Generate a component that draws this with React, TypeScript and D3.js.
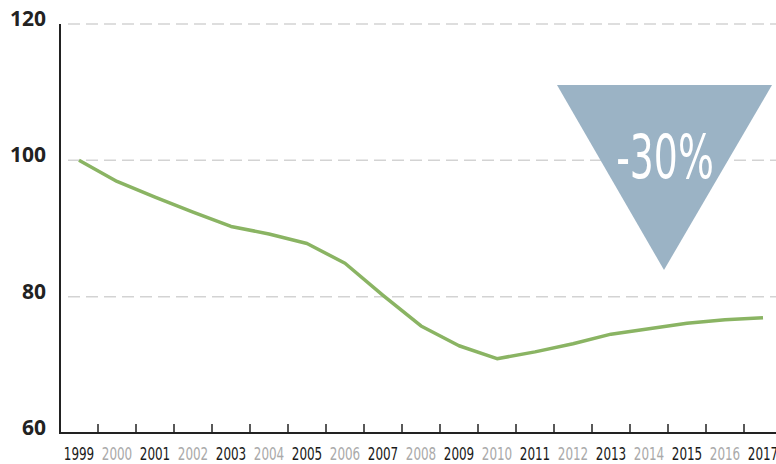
import React, { useEffect, useRef } from "react";
import * as d3 from "d3";

const years: number[] = [1999, 2000, 2001, 2002, 2003, 2004, 2005, 2006, 2007, 2008, 2009, 2010, 2011, 2012, 2013, 2014, 2015, 2016, 2017];
const values: number[] = [100, 96.9, 94.6, 92.4, 90.3, 89.2, 87.8, 84.9, 80.2, 75.7, 72.8, 70.9, 71.9, 73.1, 74.5, 75.3, 76.1, 76.6, 76.9];
const yTicks: number[] = [60, 80, 100, 120];
const badgeLabel = "-30%";

const condensed = "'DejaVu Sans Condensed', 'DejaVu Sans', sans-serif";

const App: React.FC = () => {
  const svgRef = useRef<SVGSVGElement | null>(null);

  useEffect(() => {
    const width = 776;
    const height = 464;
    const marginLeft = 60;
    const marginTop = 24;
    const bottom = 433;
    const band = 38;

    const x = d3
      .scaleBand<number>()
      .domain(years)
      .range([marginLeft, marginLeft + band * years.length])
      .padding(0);

    const y = d3.scaleLinear().domain([60, 120]).range([bottom, marginTop]);

    const svg = d3
      .select(svgRef.current)
      .attr("width", width)
      .attr("height", height)
      .attr("viewBox", `0 0 ${width} ${height}`);

    svg.selectAll("*").remove();

    // dashed grid lines
    svg
      .append("g")
      .selectAll("line")
      .data(yTicks.filter((d) => d > 60))
      .join("line")
      .attr("x1", 68)
      .attr("x2", width)
      .attr("y1", (d) => y(d))
      .attr("y2", (d) => y(d))
      .attr("stroke", "#d3d3d3")
      .attr("stroke-width", 1.5)
      .attr("stroke-dasharray", "12 6");

    // y labels
    svg
      .append("g")
      .selectAll("text")
      .data(yTicks)
      .join("text")
      .attr("x", 46)
      .attr("y", (d) => y(d) + 2)
      .attr("text-anchor", "end")
      .attr("font-family", "'Open Sans', sans-serif")
      .attr("font-weight", 700)
      .attr("font-size", 21)
      .attr("fill", "#222")
      .text((d) => d);

    // axes lines
    svg
      .append("line")
      .attr("x1", marginLeft)
      .attr("x2", marginLeft)
      .attr("y1", marginTop)
      .attr("y2", bottom + 1)
      .attr("stroke", "#222")
      .attr("stroke-width", 2);

    svg
      .append("line")
      .attr("x1", marginLeft - 1)
      .attr("x2", width)
      .attr("y1", bottom)
      .attr("y2", bottom)
      .attr("stroke", "#222")
      .attr("stroke-width", 2);

    // ticks at band boundaries
    svg
      .append("g")
      .selectAll("line")
      .data(years.slice(1))
      .join("line")
      .attr("x1", (d) => x(d)!)
      .attr("x2", (d) => x(d)!)
      .attr("y1", bottom)
      .attr("y2", bottom - 9)
      .attr("stroke", "#222")
      .attr("stroke-width", 1.5);

    // x labels (squeezed horizontally to look condensed)
    svg
      .append("g")
      .selectAll("text")
      .data(years)
      .join("text")
      .attr("transform", (d) => `translate(${x(d)! + band / 2},460) scale(0.72,1)`)
      .attr("text-anchor", "middle")
      .attr("font-family", condensed)
      .attr("font-size", 18.5)
      .attr("fill", (d) => (d % 2 === 1 ? "#1a1a1a" : "#aaa"))
      .text((d) => d);

    // line
    const line = d3
      .line<number>()
      .x((_, i) => x(years[i])! + band / 2)
      .y((d) => y(d));

    svg
      .append("path")
      .datum(values)
      .attr("fill", "none")
      .attr("stroke", "#8ab463")
      .attr("stroke-width", 3.5)
      .attr("stroke-linejoin", "round")
      .attr("d", line);

    // badge triangle
    const tri = d3.path();
    tri.moveTo(557, 85);
    tri.lineTo(772, 85);
    tri.lineTo(664, 270);
    tri.closePath();
    svg.append("path").attr("d", tri.toString()).attr("fill", "#9bb3c5");

    svg
      .append("text")
      .attr("transform", "translate(665,178) scale(0.7,1)")
      .attr("text-anchor", "middle")
      .attr("font-family", condensed)
      .attr("font-weight", 300)
      .attr("font-size", 60)
      .attr("fill", "#fff")
      .text(badgeLabel);
  }, []);

  return (
    <svg
      ref={svgRef}
      style={{ position: "absolute", left: 0, top: 0, background: "#fff" }}
    ></svg>
  );
};

export default App;
